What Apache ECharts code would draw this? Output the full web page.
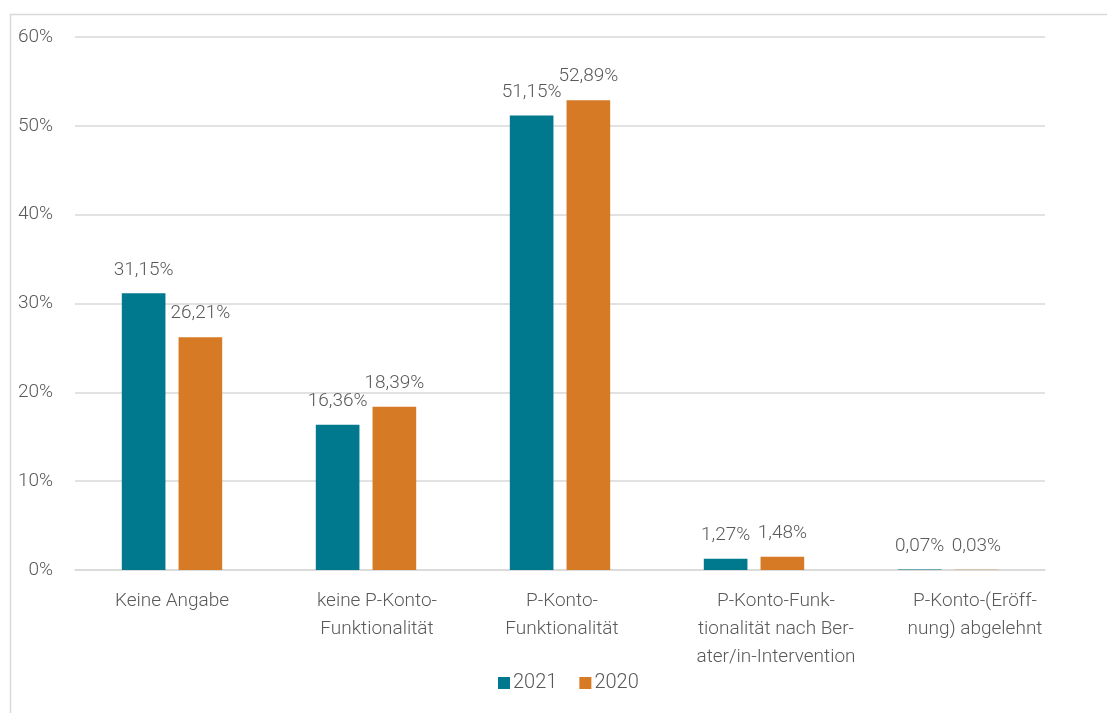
<!DOCTYPE html>
<html>
<head>
	<meta charset="UTF-8">
	<title>P-Konto</title>
	<style>
		html, body { margin: 0; padding: 0; background: #fff; }
		#container { width: 1107px; height: 713px; }
	</style>
</head>
<body>
	<div id="container"></div>
	<script src="https://cdn.jsdelivr.net/npm/echarts@6/dist/echarts.min.js"></script>
	<script>
		var categories = [
			'Keine Angabe',
			'keine P-Konto-\nFunktionalität',
			'P-Konto-\nFunktionalität',
			'P-Konto-Funk-\ntionalität nach Ber-\nater/in-Intervention',
			'P-Konto-(Eröff-\nnung) abgelehnt'
		];
		var values2021 = [31.15, 16.36, 51.15, 1.27, 0.07];
		var values2020 = [26.21, 18.39, 52.89, 1.48, 0.03];
		var yTicks = [0, 10, 20, 30, 40, 50, 60];

		var textColor = '#595959';
		var lineColor = '#d9d9d9';
		var font = 'Roboto';

		function pct(p) {
			return p.value.toFixed(2).replace('.', ',') + '%';
		}

		// excel wraps the category labels a bit off-centre, nudge them right
		var labelShift = [0, 11, 2, 22, 27];
		var rich = {};
		labelShift.forEach(function (s, i) {
			rich['c' + i] = {
				color: textColor,
				fontFamily: font,
				fontWeight: 300,
				fontSize: 19,
				lineHeight: 28,
				padding: [0, 0, 0, s * 2]
			};
		});

		var labelStyle = {
			show: true,
			position: 'top',
			distance: 14,
			formatter: pct,
			color: textColor,
			fontFamily: font,
			fontWeight: 300,
			fontSize: 19
		};

		var myChart = echarts.init(document.getElementById('container'));
		var option = {
			animation: false,
			backgroundColor: '#fff',
			graphic: [{
				type: 'rect',
				left: 8, top: 12,
				shape: { width: 1140, height: 740 },
				style: { fill: 'none', stroke: lineColor, lineWidth: 1.5 },
				silent: true
			}],
			grid: { left: 75, right: 62, top: 37, bottom: 143 },
			legend: {
				bottom: 15,
				left: 493,
				itemWidth: 12,
				itemHeight: 12,
				itemGap: 22,
				icon: 'rect',
				textStyle: { color: textColor, fontFamily: font, fontWeight: 300, fontSize: 20, padding: [0, 0, 0, -2] },
				data: ['2021', '2020']
			},
			xAxis: {
				type: 'category',
				data: categories,
				axisLine: { lineStyle: { color: lineColor, width: 1.5 } },
				axisTick: { alignWithLabel: true, length: 6, lineStyle: { color: lineColor, width: 1.5 } },
				axisLabel: {
					color: textColor,
					fontFamily: font,
					fontWeight: 300,
					fontSize: 19,
					lineHeight: 28,
					margin: 17,
					interval: 0,
					formatter: function (v, i) {
						return v.split('\n').map(function (line) {
							return '{c' + i + '|' + line + '}';
						}).join('\n');
					},
					rich: rich
				}
			},
			yAxis: {
				type: 'value',
				min: yTicks[0],
				max: yTicks[yTicks.length - 1],
				interval: 10,
				axisLine: { show: false },
				axisTick: { show: false },
				splitLine: { lineStyle: { color: lineColor, width: 1.5 } },
				axisLabel: {
					formatter: '{value}%',
					color: textColor,
					fontFamily: font,
					fontWeight: 300,
					fontSize: 19,
					margin: 22
				}
			},
			series: [
				{
					name: '2021',
					type: 'bar',
					data: values2021,
					barWidth: '22.5%',
					barGap: '30%',
					itemStyle: { color: '#00798f' },
					label: labelStyle
				},
				{
					name: '2020',
					type: 'bar',
					data: values2020,
					barWidth: '22.5%',
					itemStyle: { color: '#d67a25' },
					label: labelStyle
				}
			]
		};
		myChart.setOption(option, true);
	</script>
</body>
</html>
